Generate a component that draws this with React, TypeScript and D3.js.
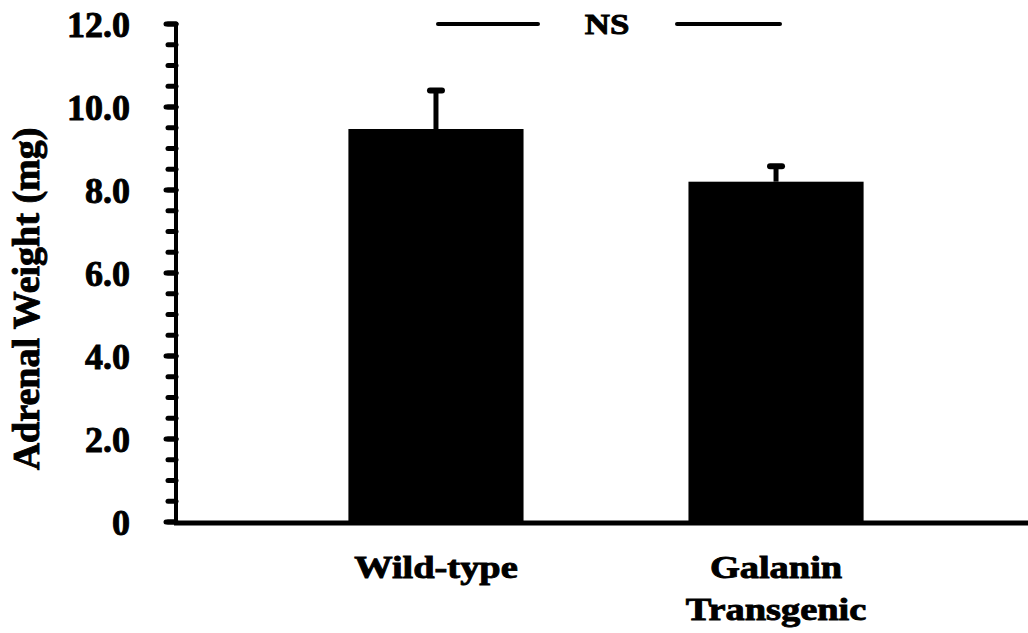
import React from "react";
import * as d3 from "d3";

const categories = ["Wild-type", "Galanin Transgenic"];
const categoryLines = [["Wild-type"], ["Galanin", "Transgenic"]];
const means = [9.47, 8.2];
const errors = [0.93, 0.37];
const majorTicks = [0, 2, 4, 6, 8, 10, 12];
const minorTicks = d3.range(0, 12.01, 0.5);
const yTitle = "Adrenal Weight (mg)";
const annotation = "NS";

const W = 1028;
const H = 633;
const FONT = "'Liberation Serif', 'Times New Roman', Times, serif";

export default function App() {
  const y = d3.scaleLinear().domain([0, 12]).range([522, 24]);
  const x = d3
    .scaleBand<string>()
    .domain(categories)
    .range([176, 1036])
    .paddingInner(0.485)
    .paddingOuter(0.507);
  const bw = x.bandwidth();
  const cx = (c: string) => (x(c) as number) + bw / 2;
  const axisX = 176;
  const mid = (cx(categories[0]) + cx(categories[1])) / 2;
  const textStroke = { stroke: "#000", strokeWidth: 0.9, paintOrder: "stroke" as const };

  return (
    <svg
      width={W}
      height={H}
      style={{ position: "absolute", left: 0, top: 0, background: "#fff" }}
      fontFamily={FONT}
      fontWeight="bold"
    >
      {/* bars */}
      {categories.map((c, i) => (
        <rect
          key={c}
          x={x(c)}
          y={y(means[i])}
          width={bw}
          height={y(0) - y(means[i])}
          fill="#000"
        />
      ))}
      {/* error bars */}
      {categories.map((c, i) => (
        <g key={"e" + c}>
          <line
            x1={cx(c)}
            x2={cx(c)}
            y1={y(means[i])}
            y2={y(means[i] + errors[i])}
            stroke="#000"
            strokeWidth={5}
          />
          <line
            x1={cx(c) - 6}
            x2={cx(c) + 6}
            y1={y(means[i] + errors[i])}
            y2={y(means[i] + errors[i])}
            stroke="#000"
            strokeWidth={6}
            strokeLinecap="round"
          />
        </g>
      ))}
      {/* y axis */}
      <line x1={axisX} x2={axisX} y1={y(12) - 1} y2={y(0) + 2} stroke="#000" strokeWidth={4} />
      {minorTicks.map((t) => (
        <line
          key={"m" + t}
          x1={axisX - 8}
          x2={axisX}
          y1={y(t)}
          y2={y(t)}
          stroke="#000"
          strokeWidth={5}
          strokeLinecap="round"
        />
      ))}
      {majorTicks.map((t) => (
        <line
          key={"M" + t}
          x1={axisX - 10}
          x2={axisX}
          y1={y(t)}
          y2={y(t)}
          stroke="#000"
          strokeWidth={5}
          strokeLinecap="round"
        />
      ))}
      {majorTicks.map((t) => (
        <text
          key={"l" + t}
          x={130}
          y={y(t) + 13}
          textAnchor="end"
          fontSize={36}
          fill="#000"
          {...textStroke}
        >
          {t === 0 ? "0" : t.toFixed(1)}
        </text>
      ))}
      {/* x axis */}
      <line x1={axisX - 2} x2={W} y1={y(0) + 1} y2={y(0) + 1} stroke="#000" strokeWidth={5} />
      {/* y title */}
      <text
        transform={`translate(39, 299) rotate(-90)`}
        textAnchor="middle"
        fontSize={38}
        fill="#000"
        {...textStroke}
      >
        {yTitle}
      </text>
      {/* category labels */}
      {categories.map((c, i) =>
        categoryLines[i].map((ln, j) => (
          <text
            key={c + j}
            transform={`translate(${cx(c)}, ${578 + j * 42}) scale(1.2, 1)`}
            textAnchor="middle"
            fontSize={32}
            fill="#000"
            {...textStroke}
          >
            {ln}
          </text>
        ))
      )}
      {/* NS annotation */}
      <line
        x1={cx(categories[0]) + 2}
        x2={mid - 68}
        y1={y(12)}
        y2={y(12)}
        stroke="#000"
        strokeWidth={4}
        strokeLinecap="round"
      />
      <line
        x1={mid + 71}
        x2={cx(categories[1]) + 4}
        y1={y(12)}
        y2={y(12)}
        stroke="#000"
        strokeWidth={4}
        strokeLinecap="round"
      />
      <text
        transform={`translate(${mid + 1}, 34) scale(1.2, 1)`}
        textAnchor="middle"
        fontSize={29}
        fill="#000"
        {...textStroke}
      >
        {annotation}
      </text>
    </svg>
  );
}
